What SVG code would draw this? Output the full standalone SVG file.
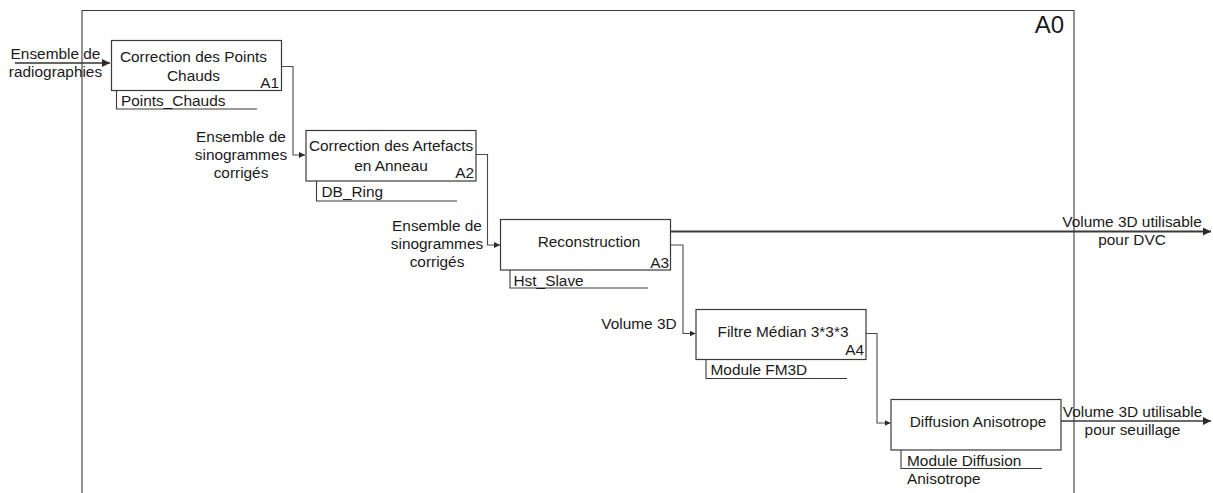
<svg xmlns="http://www.w3.org/2000/svg" width="1213" height="493" viewBox="0 0 1213 493">
<style>
text{font-family:"Liberation Sans",Arial,sans-serif;font-size:15.4px;fill:#1a1a1a}
.c{text-anchor:middle}
.r{text-anchor:end}
.box{fill:#fff;stroke:#3a3a3a;stroke-width:1.2}
.mech{fill:none;stroke:#3a3a3a;stroke-width:1.1}
.conn{fill:none;stroke:#4a4a4a;stroke-width:1.1}
.out{fill:none;stroke:#3a3a3a;stroke-width:2}
.frame{fill:none;stroke:#3a3a3a;stroke-width:1.1}
</style>
<defs>
<marker id="ah" viewBox="0 0 10 10" refX="10" refY="5" markerWidth="6" markerHeight="6" markerUnits="userSpaceOnUse" orient="auto"><path d="M0,0 L10,5 L0,10 z" fill="#2a2a2a"/></marker>
<marker id="ahb" viewBox="0 0 10 10" refX="10" refY="5" markerWidth="8" markerHeight="8" markerUnits="userSpaceOnUse" orient="auto"><path d="M0,0 L10,5 L0,10 z" fill="#2a2a2a"/></marker>
</defs>
<g id="frame">
<path class="frame" d="M82,493 V10.5 H1074 V493"/>
<text x="1064" y="33" class="r" style="font-size:24px">A0</text>
</g>
<g id="connectors">
<path class="conn" style="stroke-width:1.5;stroke:#333" d="M15,63 H110" marker-end="url(#ahb)"/>
<path class="conn" d="M281,66.5 H293 V155 H305" marker-end="url(#ah)"/>
<path class="conn" d="M476,154.5 H487.5 V245 H500" marker-end="url(#ah)"/>
<path class="out" d="M670,231.5 H1211" marker-end="url(#ahb)"/>
<path class="conn" d="M670,245 H683 V333.5 H695.5" marker-end="url(#ah)"/>
<path class="conn" d="M866,333.5 H877 V423 H890.5" marker-end="url(#ah)"/>
<path class="out" style="stroke-width:1.6" d="M1061,421 H1211" marker-end="url(#ahb)"/>
</g>
<g id="labels">
<text x="55.5" y="59" class="c">Ensemble de</text>
<text x="55.5" y="76.5" class="c">radiographies</text>
<text x="241" y="142.4" class="c">Ensemble de</text>
<text x="241" y="160.4" class="c">sinogrammes</text>
<text x="241" y="178.4" class="c">corrigés</text>
<text x="437" y="230.7" class="c">Ensemble de</text>
<text x="437" y="248.7" class="c">sinogrammes</text>
<text x="437" y="266.7" class="c">corrigés</text>
<text x="639" y="328.5" class="c">Volume 3D</text>
<text x="1132" y="227.4" class="c">Volume 3D utilisable</text>
<text x="1132" y="245.4" class="c">pour DVC</text>
<text x="1132.5" y="417.4" class="c">Volume 3D utilisable</text>
<text x="1132.5" y="435.4" class="c">pour seuillage</text>
</g>
<g id="A1">
<rect class="box" x="111.5" y="40.5" width="170" height="50"/>
<text x="193.5" y="62" class="c">Correction des Points</text>
<text x="193.5" y="81" class="c">Chauds</text>
<text x="279" y="87.5" class="r">A1</text>
<path class="mech" d="M116.5,90.5 V109 H257"/>
<text x="121" y="105.5">Points_Chauds</text>
</g>
<g id="A2">
<rect class="box" x="306" y="130.5" width="170" height="50.5"/>
<text x="391" y="151.4" class="c">Correction des Artefacts</text>
<text x="391" y="170.5" class="c">en Anneau</text>
<text x="474" y="178" class="r">A2</text>
<path class="mech" d="M316.5,181 V201 H457"/>
<text x="321.5" y="197">DB_Ring</text>
</g>
<g id="A3">
<rect class="box" x="500.5" y="219.5" width="170" height="50.5"/>
<text x="589" y="247.4" class="c">Reconstruction</text>
<text x="669" y="267.5" class="r">A3</text>
<path class="mech" d="M510,270 V288 H648"/>
<text x="513.5" y="285.5">Hst_Slave</text>
</g>
<g id="A4">
<rect class="box" x="696" y="309.5" width="170" height="50"/>
<text x="783" y="337.4" class="c">Filtre Médian 3*3*3</text>
<text x="864" y="355" class="r">A4</text>
<path class="mech" d="M706,359.5 V378.5 H847"/>
<text x="710.5" y="375">Module FM3D</text>
</g>
<g id="A5">
<rect class="box" x="891" y="399.5" width="170" height="50.5"/>
<text x="978" y="427.4" class="c">Diffusion Anisotrope</text>
<path class="mech" d="M901,450 V468.5 H1042"/>
<text x="907" y="465.5">Module Diffusion</text>
<text x="907" y="484">Anisotrope</text>
</g>
</svg>
